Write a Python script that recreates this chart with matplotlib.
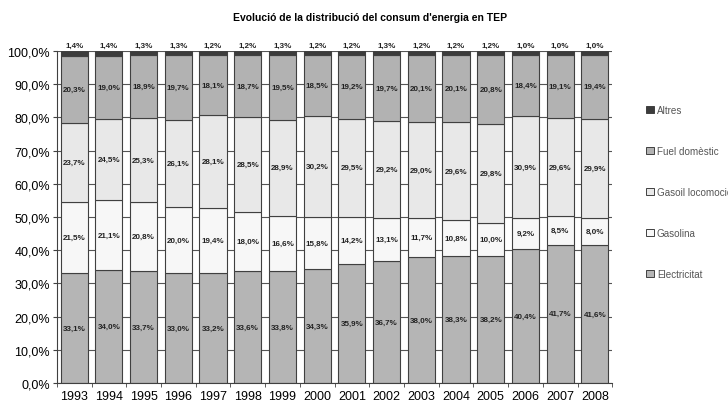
import matplotlib
matplotlib.use("Agg")
import matplotlib.pyplot as plt
import numpy as np
from matplotlib.patches import Patch

plt.rcParams["font.family"] = ["Liberation Sans", "DejaVu Sans"]

anys = [str(a) for a in range(1993, 2009)]
electricitat = [33.1, 34.0, 33.7, 33.0, 33.2, 33.6, 33.8, 34.3, 35.9, 36.7, 38.0, 38.3, 38.2, 40.4, 41.7, 41.6]
gasolina = [21.5, 21.1, 20.8, 20.0, 19.4, 18.0, 16.6, 15.8, 14.2, 13.1, 11.7, 10.8, 10.0, 9.2, 8.5, 8.0]
gasoil = [23.7, 24.5, 25.3, 26.1, 28.1, 28.5, 28.9, 30.2, 29.5, 29.2, 29.0, 29.6, 29.8, 30.9, 29.6, 29.9]
fuel = [20.3, 19.0, 18.9, 19.7, 18.1, 18.7, 19.5, 18.5, 19.2, 19.7, 20.1, 20.1, 20.8, 18.4, 19.1, 19.4]
altres = [1.4, 1.4, 1.3, 1.3, 1.2, 1.2, 1.3, 1.2, 1.2, 1.3, 1.2, 1.2, 1.2, 1.0, 1.0, 1.0]

series = [
    ("Electricitat", electricitat, "#b5b5b5"),
    ("Gasolina", gasolina, "#f7f7f7"),
    ("Gasoil locomoció", gasoil, "#e8e8e8"),
    ("Fuel domèstic", fuel, "#b2b2b2"),
    ("Altres", altres, "#3c3c3c"),
]


def pct(v):
    return f"{v:.1f}%".replace(".", ",")


fig = plt.figure(figsize=(7.28, 4.06), dpi=100)
fig.patch.set_facecolor("white")
ax = fig.add_axes([0.078, 0.054, 0.763, 0.818])

x = np.arange(len(anys))
base = np.zeros(len(anys))
for nom, vals, color in series:
    vals = np.array(vals)
    ax.bar(x, vals, 0.78, bottom=base, color=color, edgecolor="#404040",
           linewidth=0.8, zorder=2, label=nom)
    for xi, b, v in zip(x, base, vals):
        if nom == "Altres":
            ax.text(xi, b + v + 0.6, pct(v), ha="center", va="bottom",
                    fontsize=5.8, fontweight="bold", color="#222222")
        else:
            ax.text(xi, b + v / 2, pct(v), ha="center", va="center",
                    fontsize=5.8, fontweight="bold", color="#222222", zorder=3)
    base = base + vals

ax.set_xlim(-0.5, len(anys) - 0.5)
ax.set_ylim(0, 100)
ax.set_yticks(np.arange(0, 101, 10))
ax.set_yticklabels([pct(v) for v in np.arange(0, 101, 10)], fontsize=9)
ax.set_xticks(x)
ax.set_xticklabels(anys, fontsize=9)
ax.set_xticks(np.arange(-0.5, len(anys), 1), minor=True)
ax.tick_params(axis="x", which="major", length=0, pad=5)
ax.tick_params(axis="x", which="minor", length=3, color="#404040")
ax.tick_params(axis="y", length=3, color="#404040", pad=2)
ax.set_axisbelow(True)
ax.yaxis.grid(True, color="#555555", linewidth=0.8)
for s in ["top", "right"]:
    ax.spines[s].set_visible(False)
for s in ["left", "bottom"]:
    ax.spines[s].set_color("#404040")

fig.text(0.508, 0.955, "Evolució de la distribució del consum d'energia en TEP",
         ha="center", va="center", fontsize=7.5, fontweight="bold")

handles = [Patch(facecolor=c, edgecolor="#404040", linewidth=0.7, label=n)
           for n, _, c in series][::-1]
ax.legend(handles=handles, loc="upper left", bbox_to_anchor=(1.045, 0.865),
          frameon=False, fontsize=7.1, labelspacing=3.15, handlelength=0.75,
          handleheight=0.65, handletextpad=0.35, labelcolor="#555555")

fig.savefig("out.png", dpi=100)
